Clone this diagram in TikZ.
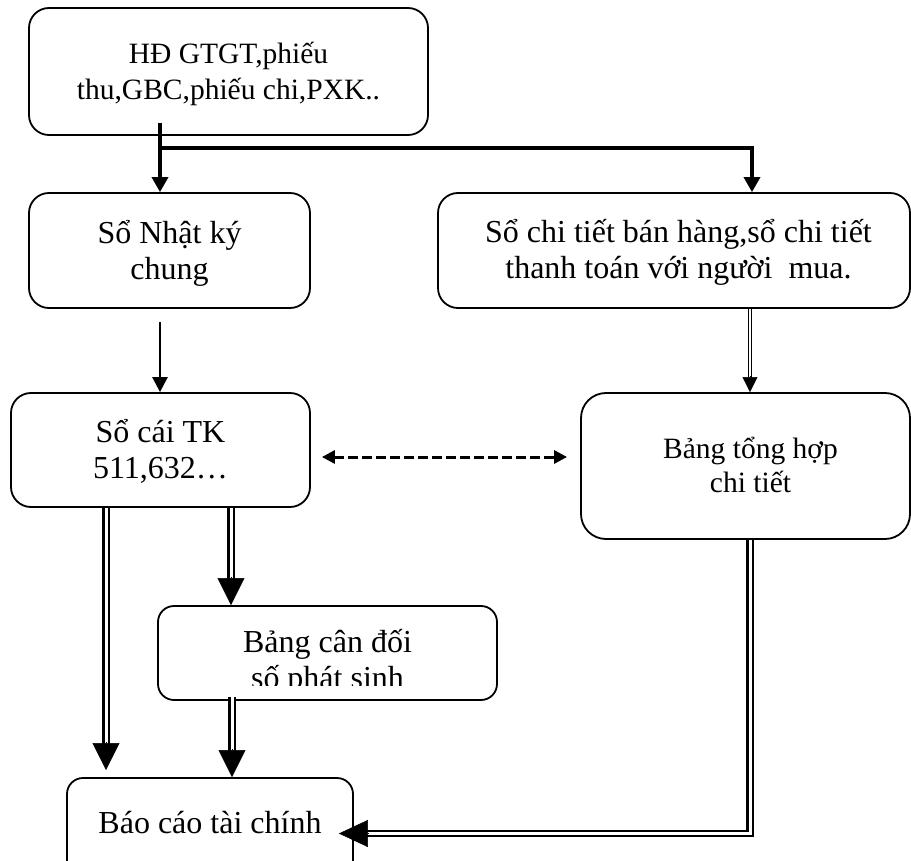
\documentclass[tikz,border=0pt]{standalone}
\usepackage{fontspec}
\setmainfont{Liberation Serif}
\usetikzlibrary{arrows.meta}
\newcommand{\mylines}[1]{\begin{tabular}[t]{@{}c@{}}#1\end{tabular}}
\begin{document}
\begin{tikzpicture}[x=1pt,y=-1pt,
  txt/.style={inner sep=0pt, font=\fontsize{32}{36}\selectfont},
  smalltxt/.style={font=\fontsize{29.5}{#1}\selectfont},
  box/.style={txt, draw, line width=1.8pt, rounded corners=#1},
  box/.default=20pt,
  heavy/.style={line width=3.5pt, -{Triangle[length=15pt,width=16pt]}},
  medium/.style={line width=2.6pt, -{Triangle[length=15pt,width=15pt]}},
  dashdbl/.style={line width=3pt, dash pattern=on 9.5pt off 4.5pt,
     {Triangle[length=13pt,width=13pt]}-{Triangle[length=13pt,width=13pt]}},
  dblthin/.style={double, line width=0.8pt, double distance=2pt},
  dblbold/.style={double, line width=2.5pt, double distance=3pt},
  dblmid/.style={double, line width=2.2pt, double distance=3pt},
  tipsmall/.style={line width=0.5pt, -{Triangle[length=15pt,width=15pt]}},
  tipbig/.style={line width=0.5pt, -{Triangle[length=27pt,width=27pt]}},
  tipbigh/.style={line width=0.5pt, -{Triangle[length=29pt,width=27pt]}},
]
\useasboundingbox (0,0) rectangle (911,861);

% boxes (text height/depth place the first baseline)
\node[box, smalltxt=36, minimum width=399pt, minimum height=127pt, text height=0pt, text depth=16pt]
  (top) at (228.5,71.5) {\mylines{HĐ GTGT,phiếu\\thu,GBC,phiếu chi,PXK..}};
\node[box, minimum width=281pt, minimum height=115pt, text height=0pt, text depth=14pt]
  (nk) at (169.5,250.5) {\mylines{Sổ Nhật ký\\chung}};
\node[box, minimum width=472pt, minimum height=115pt, text height=0pt, text depth=15pt]
  (sct) at (674,250.5) {\mylines{\hspace*{9pt}Sổ chi tiết bán hàng,sổ chi tiết\\\hspace*{9pt}thanh toán với người~~mua.}};
\node[box, minimum width=299pt, minimum height=114pt, text height=0pt, text depth=15pt]
  (sc) at (160.5,450) {\mylines{Sổ cái TK\\511,632…}};
\node[box=25pt, smalltxt=34.5, minimum width=329pt, minimum height=146pt, text height=0pt, text depth=15.4pt]
  (bth) at (745.5,466) {\mylines{\hspace*{10pt}Bảng tổng hợp\\\hspace*{10pt}chi tiết}};
\node[box=16pt, minimum width=339pt, minimum height=94pt] (bcd) at (327.5,653) {};
\begin{scope}
  \clip (bcd.north west) rectangle ([yshift=15pt]bcd.south east);
  \node[txt, anchor=base] (bcdtxt) at (327.5,652) {\mylines{Bảng cân đối\\số phát sinh}};
\end{scope}
\node[box=16pt, minimum width=286pt, minimum height=102pt, text height=22pt, text depth=14pt]
  (bc) at (210,829) {Báo cáo tài chính};

% connectors from the source documents
\coordinate (t1) at (160,123);
\coordinate (j1) at (160,148);
\coordinate (j2) at (752,148);
\draw[heavy] (t1) -- (t1 |- nk.north);
\draw[heavy] (j1) -- (j2) -- (j2 |- sct.north);

% journal -> ledger
\coordinate (n1) at (160,322);
\draw[medium] (n1) -- (n1 |- sc.north);

% ledger <-> summary (dashed)
\coordinate (dy) at (0,457);
\draw[dashdbl, shorten <=11pt, shorten >=13pt] (sc.east |- dy) -- (bth.west |- dy);

% detail book -> summary table
\coordinate (a4) at (750,0);
\draw[dblthin] (sct.south -| a4) -- ([yshift=14pt]bth.north -| a4);
\draw[tipsmall] ([yshift=16pt]bth.north -| a4) -- (bth.north -| a4);

% ledger -> financial statements
\coordinate (a5) at (106,0);
\coordinate (a5e) at (106,770);
\draw[dblbold] (sc.south -| a5) -- ([yshift=26pt]a5e);
\draw[tipbig] ([yshift=28pt]a5e) -- (a5e);

% ledger -> trial balance
\coordinate (a6) at (231,0);
\draw[dblbold] (sc.south -| a6) -- ([yshift=26pt]bcd.north -| a6);
\draw[tipbig] ([yshift=28pt]bcd.north -| a6) -- (bcd.north -| a6);

% trial balance -> financial statements
\coordinate (a7) at (232,0);
\draw[dblbold] ([yshift=4pt]bcd.south -| a7) -- ([yshift=26pt]bc.north -| a7);
\draw[tipbig] ([yshift=28pt]bc.north -| a7) -- (bc.north -| a7);

% summary table -> financial statements
\coordinate (e8) at (750,833.5);
\draw[dblmid] (bth.south -| e8) -- (e8) -- ([xshift=13pt]bc.east |- e8);
\draw[tipbigh] ([xshift=14pt]bc.east |- e8) -- ([xshift=-15pt]bc.east |- e8);
\end{tikzpicture}
\end{document}
